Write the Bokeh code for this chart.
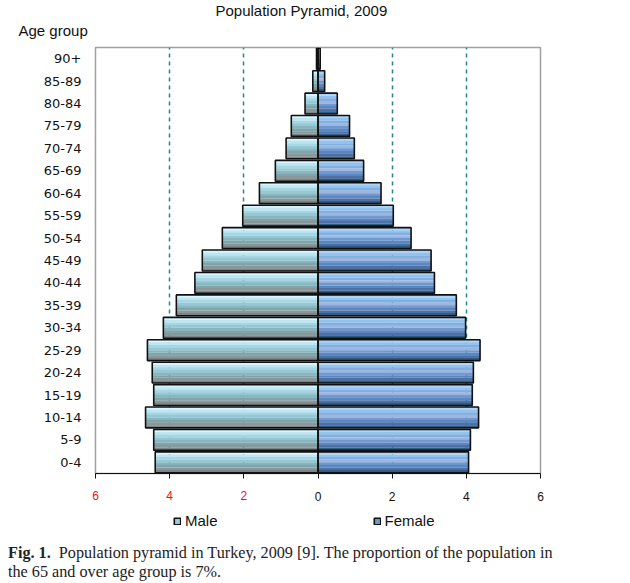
from bokeh.plotting import figure
from bokeh.models import (FactorRange, FixedTicker, Legend, LegendItem, Title,
                          ColumnDataSource, Div, Range1d, LinearAxis)
from bokeh.transform import dodge
from bokeh.layouts import column
from bokeh.embed import file_html
from bokeh.resources import INLINE

# ---- data (bottom to top) ----
age_groups = ["0-4", "5-9", "10-14", "15-19", "20-24", "25-29", "30-34", "35-39",
              "40-44", "45-49", "50-54", "55-59", "60-64", "65-69", "70-74",
              "75-79", "80-84", "85-89", "90+"]
male = [4.39, 4.43, 4.65, 4.43, 4.47, 4.60, 4.17, 3.82, 3.32, 3.12, 2.58, 2.03,
        1.58, 1.15, 0.86, 0.72, 0.35, 0.14, 0.04]
female = [4.06, 4.11, 4.33, 4.16, 4.19, 4.37, 3.98, 3.73, 3.14, 3.05, 2.51, 2.03,
          1.70, 1.23, 0.98, 0.85, 0.52, 0.18, 0.06]
x_ticks = [-6, -4, -2, 0, 2, 4, 6]
neg_ticks = [-6, -4, -2]
pos_ticks = [0, 2, 4, 6]
neg_tick_labels = ["6", "4", "2"]
grid_ticks = [-4, -2, 2, 4]

# stripe colours, top to bottom
male_stripes = ["#d9f5fd", "#bde6f3", "#a6d6e3", "#96c8d4", "#86b6c0",
                "#7fa4aa", "#8a9799", "#7b8486"]
female_stripes = ["#add3f8", "#93c2ef", "#7fb0e2", "#a3b4dc", "#6b9bd2",
                  "#5d86c0", "#4d70a8", "#2f5c80"]

src = ColumnDataSource(dict(age=age_groups,
                            mleft=[-v for v in male],
                            fright=female))

p = figure(width=630, height=505, y_range=FactorRange(*age_groups),
           x_range=Range1d(-6, 6), output_backend="svg", toolbar_location=None,
           min_border_left=95, min_border_right=90, min_border_top=47,
           min_border_bottom=30)

p.title.text = "Population Pyramid, 2009"
p.title.align = "left"
p.title.offset = 120
p.title.standoff = -16
p.title.text_font = "Liberation Sans"
p.title.text_font_style = "normal"
p.title.text_font_size = "15px"
p.title.text_color = "#111111"

age_title = Title(text="Age group", align="left", offset=-77, standoff=18,
                  text_font="Liberation Sans", text_font_style="normal",
                  text_font_size="15px", text_color="#111111")
p.add_layout(age_title, "above")

p.outline_line_color = "#a0a0a0"
p.outline_line_width = 1.5

bh = 0.93
n = 8
sh = bh / n

for i in range(n):
    off = bh / 2 - sh / 2 - i * sh
    p.hbar(y=dodge("age", off, range=p.y_range), left="mleft", right=0,
           height=sh + 0.005, source=src, fill_color=male_stripes[i], line_color=None)
    p.hbar(y=dodge("age", off, range=p.y_range), left=0, right="fright",
           height=sh + 0.005, source=src, fill_color=female_stripes[i], line_color=None)

p.hbar(y="age", left="mleft", right=0, height=bh, source=src,
       fill_color=None, line_color="#111111", line_width=1.6)
p.hbar(y="age", left=0, right="fright", height=bh, source=src,
       fill_color=None, line_color="#111111", line_width=1.6)

# grid
p.ygrid.grid_line_color = None
p.xgrid.ticker = FixedTicker(ticks=grid_ticks)
p.xgrid.grid_line_color = "#1f8a8a"
p.xgrid.grid_line_width = 1.5
p.xgrid.grid_line_dash = "4 4"

# x axis: ticks + red negative labels
ax = p.xaxis[0]
ax.ticker = FixedTicker(ticks=x_ticks)
overrides = {t: neg_tick_labels[i] for i, t in enumerate(neg_ticks)}
overrides.update({t: " " for t in pos_ticks})
ax.major_label_overrides = overrides
ax.axis_line_color = "#111111"
ax.axis_line_width = 1.2
ax.major_tick_line_color = "#111111"
ax.major_tick_out = 5
ax.major_tick_in = 0
ax.minor_tick_line_color = None
ax.major_label_text_font = "Liberation Sans"
ax.major_label_text_font_size = "12px"
ax.major_label_text_color = "#e8141b"
ax.major_label_standoff = 10

# second axis: black positive labels, pulled up onto the same line
ax2 = LinearAxis(ticker=FixedTicker(ticks=pos_ticks), axis_line_color=None,
                 major_tick_line_color=None, minor_tick_line_color=None,
                 major_tick_out=0, major_tick_in=0, major_label_standoff=-14,
                 major_label_text_font="Liberation Sans",
                 major_label_text_font_size="12px",
                 major_label_text_color="#111111")
p.add_layout(ax2, "below")

# y axis
p.yaxis.axis_line_color = None
p.yaxis.major_tick_line_color = None
p.yaxis.minor_tick_line_color = None
p.yaxis.major_label_text_font = "DejaVu Sans"
p.yaxis.major_label_text_font_size = "13px"
p.yaxis.major_label_text_color = "#111111"
p.yaxis.major_label_standoff = 8

# legend strip in its own small figure (hidden proxy renderers)
lg = figure(width=630, height=35, y_range=FactorRange(*age_groups),
            x_range=Range1d(-6, 6), output_backend="svg", toolbar_location=None,
            x_axis_type=None, y_axis_type=None, min_border=0)
lg.outline_line_color = None
mproxy = lg.hbar(y="age", left="mleft", right=0, height=bh, source=src,
                 fill_color="#9fc9d4", line_color="#111111", line_width=1.6,
                 visible=False)
fproxy = lg.hbar(y="age", left=0, right="fright", height=bh, source=src,
                 fill_color="#6f9bcc", line_color="#111111", line_width=1.6,
                 visible=False)
legend = Legend(items=[LegendItem(label="Male", renderers=[mproxy]),
                       LegendItem(label="Female", renderers=[fproxy])],
                orientation="horizontal", location=(78, 11), spacing=155,
                glyph_width=8, glyph_height=8, label_standoff=4,
                label_text_font="Liberation Sans", label_text_font_size="15px",
                label_text_color="#111111", border_line_color=None,
                background_fill_alpha=0, padding=0, margin=0,
                inactive_fill_alpha=0)
lg.add_layout(legend, "center")

caption = Div(text='<div style="font-family:\'Liberation Serif\';font-size:16.2px;'
                   'line-height:19px;color:#222;">'
                   '<b>Fig. 1.</b>&nbsp; Population pyramid in Turkey, 2009 [9]. '
                   'The proportion of the population in<br>the 65 and over age group is 7%.'
                   '</div>', width=620, margin=(4, 0, 0, 8))

layout = column(p, lg, caption)
open("out.html", "w").write(file_html(layout, INLINE))
